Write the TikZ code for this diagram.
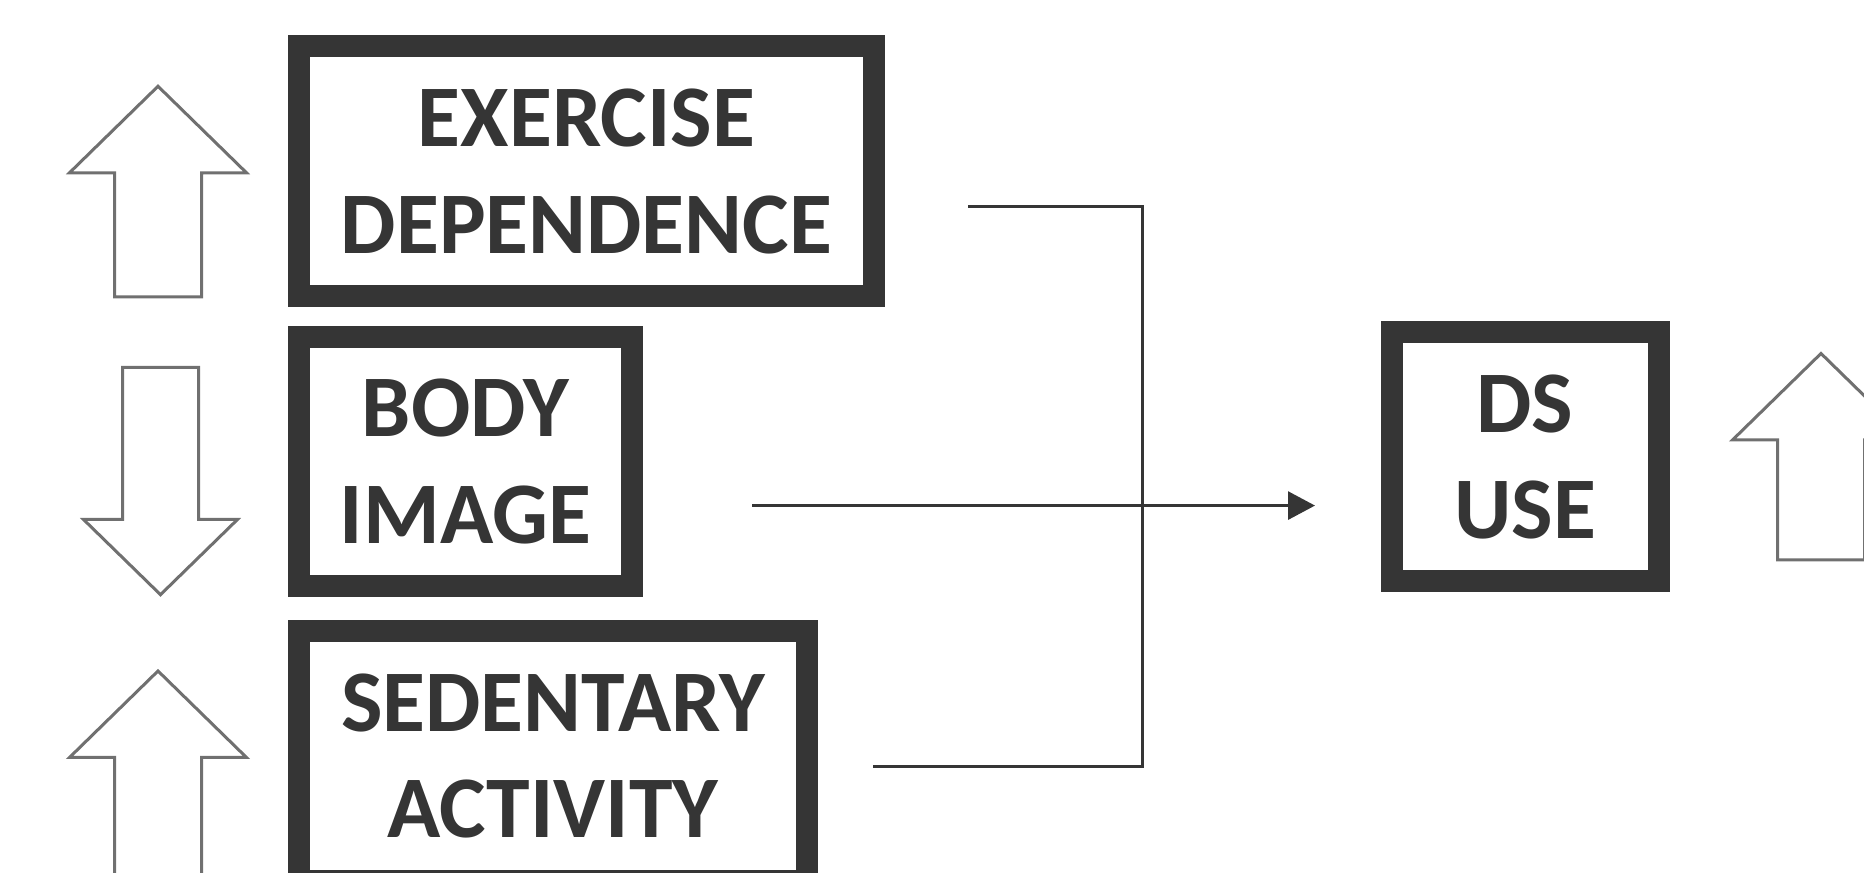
\documentclass[tikz,border=0pt]{standalone}
\usepackage{fontspec}
\setmainfont{Carlito}
\usetikzlibrary{arrows.meta}
\definecolor{boxgray}{HTML}{353535}
\definecolor{arrowgray}{HTML}{707070}
\tikzset{
  factor/.style={draw=boxgray, line width=0.22cm, inner sep=0pt, align=center,
    text=boxgray, font=\bfseries\fontsize{25}{30.2}\selectfont},
  link/.style={draw=boxgray, line width=0.03cm},
  hollow/.style={draw=arrowgray, line width=0.03cm, fill=white}
}
\begin{document}
\begin{tikzpicture}
\useasboundingbox (0,0) rectangle (18.64,8.73);
\clip (0,0) rectangle (18.64,8.73);

\node[factor, minimum width=5.75cm, minimum height=2.50cm] (exdep) at (5.865,7.015) {EXERCISE\\DEPENDENCE};
\node[factor, minimum width=3.33cm, minimum height=2.49cm] (body) at (4.655,4.115) {BODY\\IMAGE};
\node[factor, minimum width=5.08cm, minimum height=2.50cm] (sedact) at (5.53,1.17) {SEDENTARY\\ACTIVITY};
\node[factor, minimum width=2.67cm, minimum height=2.49cm] (dsuse) at (15.25,4.16) {DS\\USE};

\coordinate (exline) at (9.68,6.664);
\coordinate (bodyline) at (7.52,3.674);
\coordinate (sedline) at (8.73,1.06);
\coordinate (join) at (11.42,3.674);
\coordinate (tip) at (13.15,3.674);

\draw[link] (exline) -| (join);
\draw[link] (sedline) -| (join);
\draw[link, -{Triangle[length=0.27cm, width=0.28cm]}] (bodyline) -- (tip);

% up arrows: tip x/tip y/shaft length
\foreach \x/\y/\s in {1.58/7.867/1.24, 1.58/2.02/2.5, 18.21/5.195/1.2}
    \draw[hollow] (\x,\y) -- ++(0.885,-0.865) -- ++(-0.45,0) -- ++(0,-\s)
        -- ++(-0.87,0) -- ++(0,\s) -- ++(-0.45,0) -- cycle;

% down arrow
\draw[hollow] (1.605,2.783) -- ++(0.77,0.752) -- ++(-0.39,0) -- ++(0,1.52)
    -- ++(-0.76,0) -- ++(0,-1.52) -- ++(-0.39,0) -- cycle;
\end{tikzpicture}
\end{document}
